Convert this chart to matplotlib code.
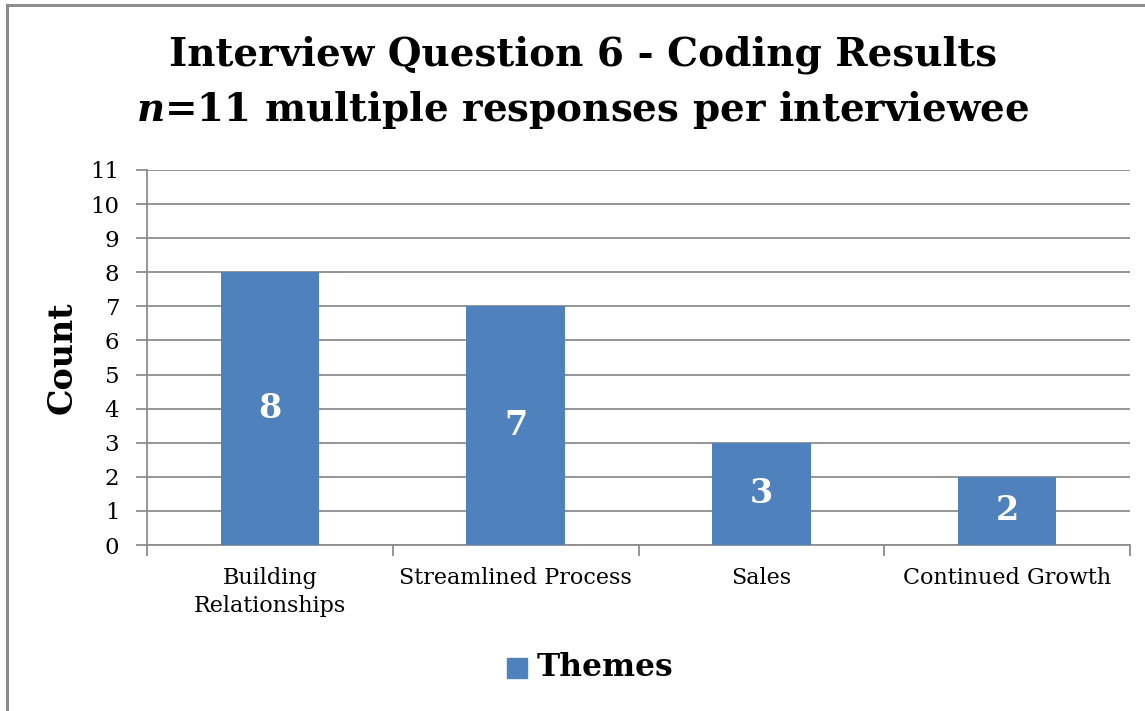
import matplotlib.pyplot as plt
from matplotlib.patches import Rectangle
from matplotlib.lines import Line2D

categories = ['Building\nRelationships', 'Streamlined Process', 'Sales', 'Continued Growth']
counts = [8, 7, 3, 2]
series_name = 'Themes'
bar_color = '#4F81BD'
grid_color = '#8C8C8C'

plt.rcParams['font.family'] = ['DejaVu Serif']
plt.rcParams['mathtext.fontset'] = 'dejavuserif'

W, H = 1145, 711
fig = plt.figure(figsize=(W / 100, H / 100), dpi=100)

# outer chart frame (runs off the right and bottom edges)
fig.add_artist(Line2D([7 / W, 7 / W], [0, 1 - 5 / H], color='#8C8C8C', lw=2.2,
                      transform=fig.transFigure))
fig.add_artist(Line2D([7 / W, 1], [1 - 5 / H, 1 - 5 / H], color='#8C8C8C', lw=2.2,
                      transform=fig.transFigure))

ax = fig.add_axes([147 / W, (H - 545) / H, 983 / W, 375 / H])
x = range(len(categories))
bars = ax.bar(x, counts, width=0.4, color=bar_color, zorder=3)
for b, v in zip(bars, counts):
    ax.text(b.get_x() + b.get_width() / 2, v / 2, str(v), ha='center', va='center',
            color='white', fontsize=24, fontweight='bold', zorder=4)

ax.set_xlim(-0.5, len(categories) - 0.5)
ax.set_ylim(0, 11)
ax.set_yticks(range(0, 12))
ax.yaxis.grid(True, color=grid_color, lw=1.3, zorder=0)
ax.set_xticks(x)
ax.set_xticklabels(categories, fontsize=16, linespacing=1.35)
ax.tick_params(axis='x', length=0, pad=16)
ax.tick_params(axis='y', labelsize=16.5, length=8, width=1.3, color=grid_color, pad=12)
# category separator ticks below the axis
ax.set_xticks([i - 0.5 for i in range(len(categories) + 1)], minor=True)
ax.tick_params(axis='x', which='minor', length=8, width=1.3, color=grid_color)

for side in ['top', 'right']:
    ax.spines[side].set_visible(False)
for side in ['left', 'bottom']:
    ax.spines[side].set_color(grid_color)
    ax.spines[side].set_linewidth(1.3)

ax.set_ylabel('Count', fontsize=24, fontweight='bold', labelpad=8.5)

fig.text(583 / W, 1 - 55 / H, 'Interview Question 6 - Coding Results',
         ha='center', va='center', fontsize=28, fontweight='bold')
fig.text(583 / W, 1 - 110 / H, r'$\mathbfit{n}$=11 multiple responses per interviewee',
         ha='center', va='center', fontsize=28, fontweight='bold')

# legend
fig.add_artist(Rectangle((507 / W, 1 - 678 / H), 20 / W, 20 / H, color=bar_color,
                         transform=fig.transFigure))
fig.text(537 / W, 1 - 668 / H, series_name, ha='left', va='center',
         fontsize=22.5, fontweight='bold')

fig.savefig('out.png', dpi=100)
